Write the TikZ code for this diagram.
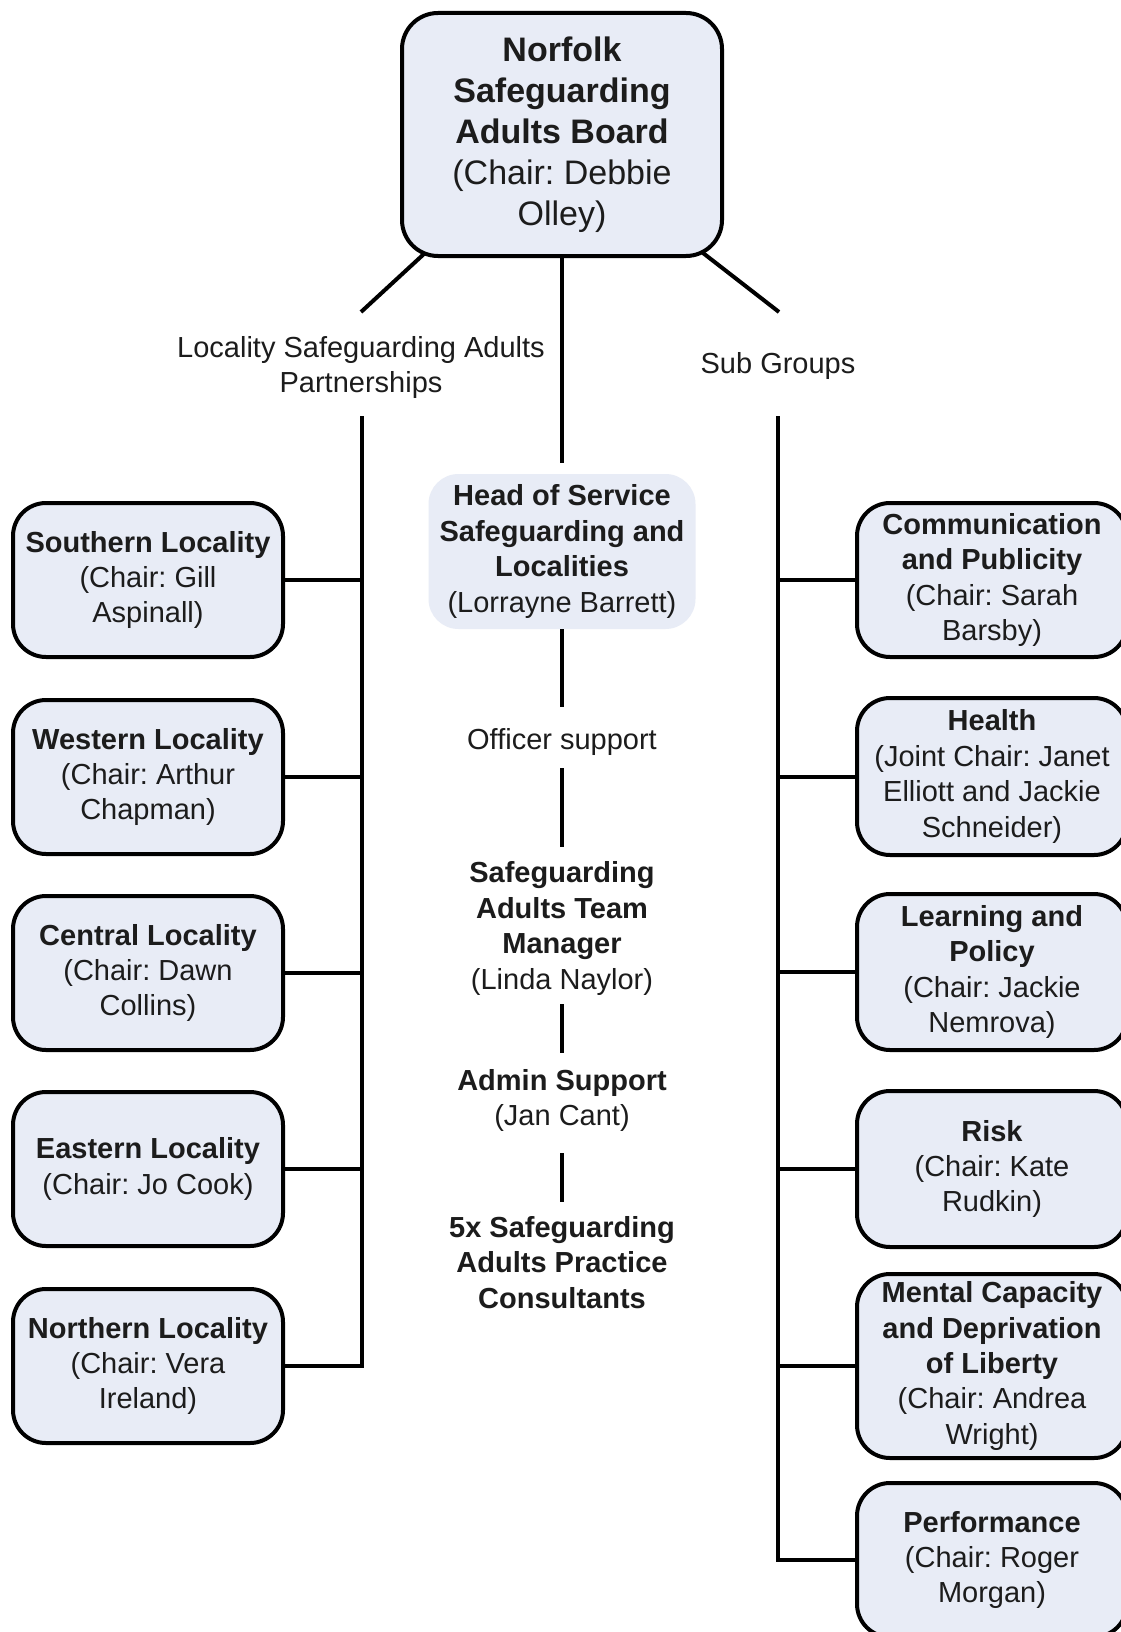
\documentclass[tikz,border=0pt]{standalone}
\usepackage{fontspec}
\setmainfont{Liberation Sans}
\frenchspacing
\definecolor{boxfill}{RGB}{232,236,246}
\definecolor{txt}{RGB}{28,28,28}
\begin{document}
\begin{tikzpicture}[x=1pt,y=-1pt,
  conn/.style={line width=4pt, draw=black},
  unit/.style={draw=black, line width=4pt, fill=boxfill, rounded corners=33pt,
    minimum width=270pt, minimum height=154pt, inner sep=0pt, align=center,
    font=\frenchspacing\fontsize{29}{35.4}\selectfont, text=txt},
  board/.style={unit, minimum width=320pt, minimum height=243pt, rounded corners=36pt,
    font=\frenchspacing\fontsize{34}{41}\selectfont},
  headbox/.style={fill=boxfill, rounded corners=30pt, minimum width=267pt, minimum height=155pt,
    inner sep=0pt, align=center, font=\frenchspacing\fontsize{29}{35.4}\selectfont, text=txt},
  plain/.style={inner sep=0pt, align=center, font=\frenchspacing\fontsize{29}{35.4}\selectfont, text=txt}
]
\useasboundingbox (0,0) rectangle (1120,1632);
\fill[white] (0,0) rectangle (1120,1632);

% top
\node[board] (top) at (562,134.5) {\textbf{Norfolk}\\\textbf{Safeguarding}\\\textbf{Adults Board}\\(Chair: Debbie\\Olley)};

% labels
\node[plain] (lspa) at (361,367.5) {Locality Safeguarding Adults\\Partnerships};
\node[plain] (subg) at (778,365.5) {Sub Groups};

% left boxes
\node[unit] (south) at (148,580) {\textbf{Southern Locality}\\(Chair: Gill\\Aspinall)};
\node[unit] (west) at (148,777) {\textbf{Western Locality}\\(Chair: Arthur\\Chapman)};
\node[unit] (central) at (148,973) {\textbf{Central Locality}\\(Chair: Dawn\\Collins)};
\node[unit] (east) at (148,1169) {\textbf{Eastern Locality}\\(Chair: Jo Cook)};
\node[unit] (north) at (148,1366) {\textbf{Northern Locality}\\(Chair: Vera\\Ireland)};

% right boxes
\node[unit] (comm) at (992,580) {\textbf{Communication}\\\textbf{and Publicity}\\(Chair: Sarah\\Barsby)};
\node[unit, minimum height=157pt] (health) at (992,776.5) {\textbf{Health}\\(Joint Chair: Janet\\Elliott and Jackie\\Schneider)};
\node[unit, minimum height=156pt] (learn) at (992,972) {\textbf{Learning and}\\\textbf{Policy}\\(Chair: Jackie\\Nemrova)};
\node[unit, minimum height=156pt] (risk) at (992,1169) {\textbf{Risk}\\(Chair: Kate\\Rudkin)};
\node[unit, minimum height=184pt] (mental) at (992,1366) {\textbf{Mental Capacity}\\\textbf{and Deprivation}\\\textbf{of Liberty}\\(Chair: Andrea\\Wright)};
\node[unit] (perf) at (992,1560) {\textbf{Performance}\\(Chair: Roger\\Morgan)};

% centre column
\node[headbox] (head) at (562,551.5) {\textbf{Head of Service}\\\textbf{Safeguarding and}\\\textbf{Localities}\\(Lorrayne Barrett)};
\node[plain] (officer) at (562,741.5) {Officer support};
\node[plain] (team) at (562,928.5) {\textbf{Safeguarding}\\\textbf{Adults Team}\\\textbf{Manager}\\(Linda Naylor)};
\node[plain] (admin) at (562,1100.5) {\textbf{Admin Support}\\(Jan Cant)};
\node[plain] (consult) at (562,1262.5) {\textbf{5x Safeguarding}\\\textbf{Adults Practice}\\\textbf{Consultants}};

% coordinates
\coordinate (dlA) at (425,253);
\coordinate (dlB) at (361,312);
\coordinate (drA) at (703,253);
\coordinate (drB) at (779,312);
\coordinate (c0) at (562,463);
\coordinate (c1) at (562,707);
\coordinate (c2) at (562,768);
\coordinate (c3) at (562,847);
\coordinate (c4) at (562,1004);
\coordinate (c5) at (562,1053);
\coordinate (c6) at (562,1153);
\coordinate (c7) at (562,1202);
\coordinate (lt) at (362,416);
\coordinate (rt) at (778,416);

% connectors
\draw[conn] (dlA) -- (dlB);
\draw[conn] (drA) -- (drB);
\draw[conn] (top.south) -- (c0);
\draw[conn] (head.south) -- (c1);
\draw[conn] (c2) -- (c3);
\draw[conn] (c4) -- (c5);
\draw[conn] (c6) -- (c7);

\draw[conn] (lt) |- (north.east);
\foreach \n in {south,west,central,east}
  \draw[conn] (\n.east) -- (lt |- \n.east);

\draw[conn] (rt) |- (perf.west);
\foreach \n in {comm,health,learn,risk,mental}
  \draw[conn] (\n.west) -- (rt |- \n.west);
\end{tikzpicture}
\end{document}
